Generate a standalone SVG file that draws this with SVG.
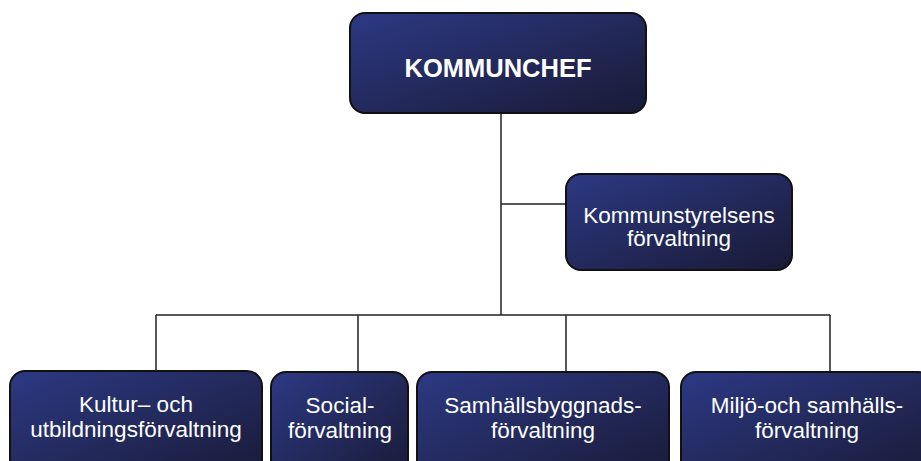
<svg xmlns="http://www.w3.org/2000/svg" width="921" height="461" viewBox="0 0 921 461">
<defs>
<linearGradient id="g" x1="0" y1="0" x2="1" y2="1">
<stop offset="0" stop-color="#2c3984"/>
<stop offset="0.55" stop-color="#222858"/>
<stop offset="1" stop-color="#181a36"/>
</linearGradient>
</defs>
<style>
.box{fill:url(#g);stroke:#111;stroke-width:2}
.t{font-family:"Liberation Sans",Arial,sans-serif;fill:#fff;text-anchor:middle;font-size:22.5px}
.b{font-weight:bold;font-size:25.5px}
.c{stroke:#222;stroke-width:1.5;fill:none}
</style>
<rect width="921" height="461" fill="#fff"/>
<g id="connectors">
<path class="c" d="M501,113 V315 M501,204 H566 M156,315 H830 M156,315 V371 M358,315 V372 M566,315 V372 M830,315 V372"/>
</g>
<g id="kommunchef">
<rect class="box" x="350" y="13" width="296" height="100" rx="15"/>
<text class="t b" x="498" y="77">KOMMUNCHEF</text>
</g>
<g id="kommunstyrelsens">
<rect class="box" x="566" y="174" width="226" height="96" rx="15"/>
<text class="t" x="679" y="223">Kommunstyrelsens</text>
<text class="t" x="679" y="246">förvaltning</text>
</g>
<g id="kultur">
<rect class="box" x="10" y="371" width="252" height="110" rx="15"/>
<text class="t" x="136" y="412">Kultur– och</text>
<text class="t" x="136" y="437">utbildningsförvaltning</text>
</g>
<g id="social">
<rect class="box" x="271" y="372" width="137" height="110" rx="15"/>
<text class="t" x="340" y="413">Social-</text>
<text class="t" x="340" y="438">förvaltning</text>
</g>
<g id="samhallsbyggnad">
<rect class="box" x="417" y="372" width="252" height="110" rx="15"/>
<text class="t" x="543" y="413">Samhällsbyggnads-</text>
<text class="t" x="543" y="438">förvaltning</text>
</g>
<g id="miljo">
<rect class="box" x="681" y="372" width="252" height="110" rx="15"/>
<text class="t" x="807" y="413">Miljö-och samhälls-</text>
<text class="t" x="807" y="438">förvaltning</text>
</g>
</svg>
